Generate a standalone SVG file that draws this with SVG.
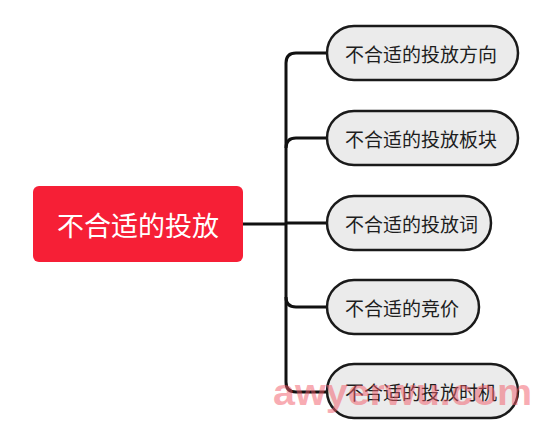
<svg xmlns="http://www.w3.org/2000/svg" width="551" height="427" viewBox="0 0 551 427">
<style>
.child rect{fill:#ebebeb;stroke:#1a1a1a;stroke-width:2.5}
.child text{font-family:"Noto Sans CJK SC","Noto Sans",sans-serif;font-size:19px;fill:#1e1e1e;dominant-baseline:central}
.conn path{fill:none;stroke:#111;stroke-width:3}
</style>
<rect width="551" height="427" fill="#ffffff"/>
<g class="conn" id="connectors">
<path d="M243,224 H285"/>
<path d="M327,53 H296 Q286,53 286,63 V382 Q286,392 296,392 H327"/>
<path d="M327,138 H296 Q286,138 286,148"/>
<path d="M286,223 H327"/>
<path d="M286,297 Q286,307 296,307 H327"/>
</g>
<g id="root">
<rect x="33" y="186" width="210" height="76" rx="6" fill="#f61f36"/>
<text x="138" y="224" text-anchor="middle" dominant-baseline="central" font-family="Noto Sans CJK SC,Noto Sans,sans-serif" font-size="27" fill="#ffffff">不合适的投放</text>
</g>
<g class="child" id="n1"><rect x="327" y="26" width="191" height="54" rx="27"/><text x="345" y="53">不合适的投放方向</text></g>
<g class="child" id="n2"><rect x="327" y="111" width="191" height="54" rx="27"/><text x="345" y="138">不合适的投放板块</text></g>
<g class="child" id="n3"><rect x="327" y="196" width="164" height="54" rx="27"/><text x="345" y="223">不合适的投放词</text></g>
<g class="child" id="n4"><rect x="327" y="280" width="152" height="54" rx="27"/><text x="345" y="307">不合适的竞价</text></g>
<g class="child" id="n5"><rect x="327" y="364" width="191" height="54" rx="27"/><text x="345" y="391">不合适的投放时机</text></g>
<text x="273" y="405" font-family="Liberation Sans,sans-serif" font-weight="bold" font-size="37" fill="#f25a68" fill-opacity="0.5" textLength="259" lengthAdjust="spacingAndGlyphs">awyerwu.com</text>
</svg>
